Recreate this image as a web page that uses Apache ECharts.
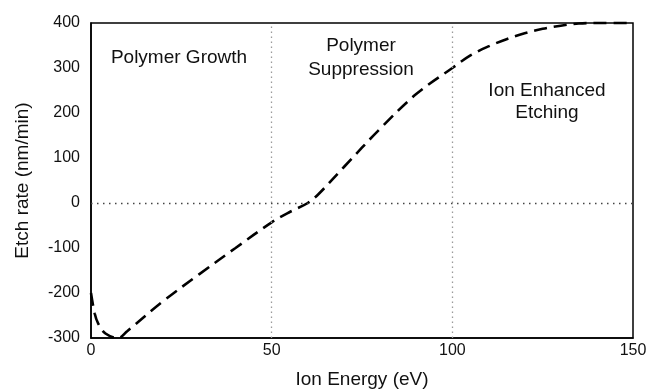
<!DOCTYPE html>
<html>
<head>
<meta charset="utf-8">
<script src="https://cdn.jsdelivr.net/npm/echarts@6/dist/echarts.min.js"></script>
<style>
  html, body { margin: 0; padding: 0; background: #fff; }
  #chart { width: 647px; height: 392px; }
</style>
</head>
<body>
<div id="chart"></div>
<script>
// Ion energy (eV) and etch rate (nm/min) along the etch-rate curve
const ionEnergy = [0, 1, 2, 4, 7.5, 10, 20, 30, 40, 50, 55, 60, 63, 70, 80, 90, 100, 105, 110, 115, 120, 125, 130, 135, 140, 150];
const etchRate  = [-200, -245, -268, -290, -300, -285, -218, -158, -100, -43, -20, 0, 20, 80, 165, 242, 300, 328, 348, 364, 377, 387, 394, 399, 400, 400];

const xTicks = [0, 50, 100, 150];
const yTicks = [-300, -200, -100, 0, 100, 200, 300, 400];

// Regime boundaries drawn as dotted guides
const regimeBounds = [50, 100];
const zeroLine = 0;

const FONT = 'Liberation Sans, Arial, Helvetica, sans-serif';

const chart = echarts.init(document.getElementById('chart'), null, { renderer: 'canvas' });

chart.setOption({
  animation: false,
  backgroundColor: '#fff',
  grid: {
    left: 91, right: 14, top: 23, bottom: 54,
    outerBoundsMode: 'none',
    containLabel: false,
    show: true, borderColor: '#000', borderWidth: 1.5, backgroundColor: 'transparent'
  },
  xAxis: {
    type: 'value',
    min: xTicks[0], max: xTicks[xTicks.length - 1], interval: 50,
    name: 'Ion Energy (eV)', nameLocation: 'middle', nameGap: 32,
    nameTextStyle: { fontFamily: FONT, fontSize: 19, color: '#111' },
    axisLine: { show: true, onZero: false, lineStyle: { color: '#000', width: 1.5 } },
    axisTick: { show: false },
    axisLabel: { fontFamily: FONT, fontSize: 16, color: '#111', margin: 5 },
    splitLine: { show: false }
  },
  yAxis: {
    type: 'value',
    min: yTicks[0], max: yTicks[yTicks.length - 1], interval: 100,
    name: 'Etch rate (nm/min)', nameLocation: 'middle', nameGap: 59, nameRotate: 90,
    nameTextStyle: { fontFamily: FONT, fontSize: 19, color: '#111' },
    axisLine: { show: true, onZero: false, lineStyle: { color: '#000', width: 1.5 } },
    axisTick: { show: false },
    axisLabel: { fontFamily: FONT, fontSize: 16, color: '#111', margin: 11 },
    splitLine: { show: false }
  },
  series: [
    {
      type: 'line',
      data: ionEnergy.map((x, i) => [x, etchRate[i]]),
      smooth: 0.35,
      symbol: 'none',
      clip: false,
      lineStyle: { color: '#000', width: 2.6, type: [13, 7], cap: 'butt' },
      markLine: {
        silent: true,
        symbol: 'none',
        label: { show: false },
        data: [
          ...regimeBounds.map(v => ({ xAxis: v, lineStyle: { color: '#9a9a9a', width: 1.3, type: [1.5, 3.5] } })),
          { yAxis: zeroLine, lineStyle: { color: '#444', width: 1.3, type: [1.5, 4.5] } }
        ]
      }
    }
  ],
  graphic: [
    {
      type: 'text', x: 179, y: 58,
      style: { text: 'Polymer Growth', fontFamily: FONT, fontSize: 19, fill: '#111', align: 'center', verticalAlign: 'middle' }
    },
    {
      type: 'text', x: 361, y: 58,
      style: { text: 'Polymer\nSuppression', fontFamily: FONT, fontSize: 19, lineHeight: 24, fill: '#111', align: 'center', verticalAlign: 'middle' }
    },
    {
      type: 'text', x: 547, y: 102,
      style: { text: 'Ion Enhanced\nEtching', fontFamily: FONT, fontSize: 19, lineHeight: 22, fill: '#111', align: 'center', verticalAlign: 'middle' }
    }
  ]
});
</script>
</body>
</html>
